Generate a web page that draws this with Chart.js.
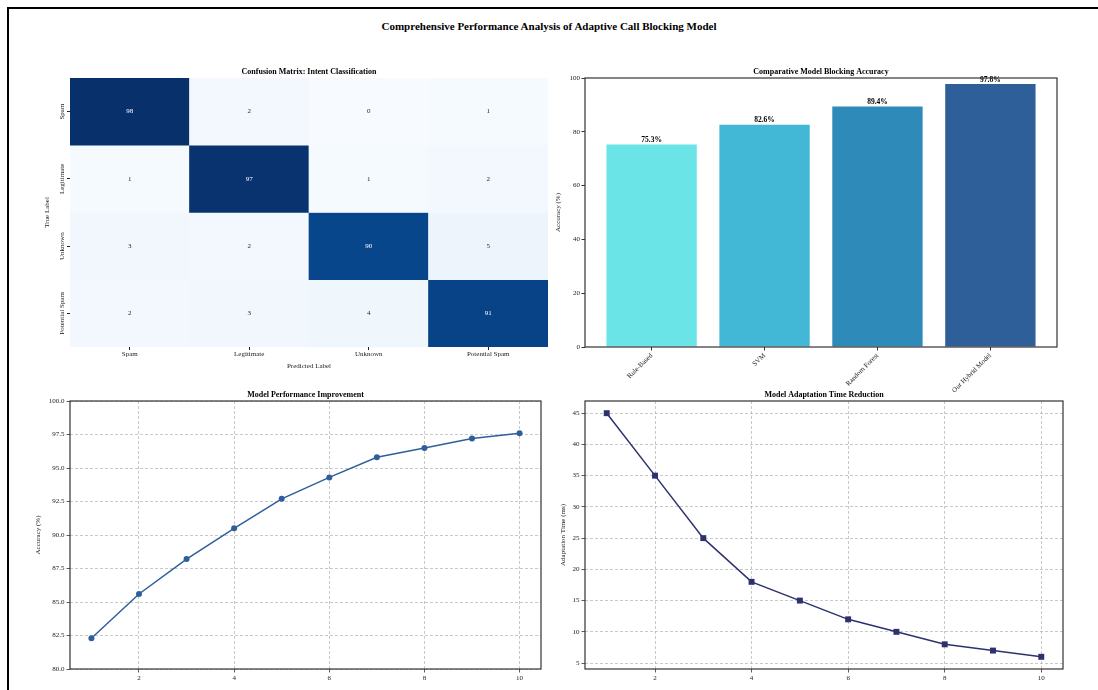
<!DOCTYPE html>
<html>
<head>
<meta charset="utf-8">
<title>Adaptive Call Blocking Model</title>
<script src="https://cdn.jsdelivr.net/npm/chart.js@4.4.1/dist/chart.umd.min.js"></script>
<style>
  body { margin: 0; width: 1098px; height: 690px; overflow: hidden; background: #fff; position: relative; font-family: "Liberation Serif", serif; }
  #frame { position: absolute; left: 7px; top: 7px; width: 1200px; height: 800px; border-top: 2px solid #000; border-left: 2px solid #000; }
  #mainTitle { position: absolute; left: 0; top: 20px; width: 1098px; text-align: center; font-weight: bold; font-size: 11px; line-height: 13px; color: #000; }
  canvas { position: absolute; }
</style>
</head>
<body>
<div id="frame"></div>
<div id="mainTitle">Comprehensive Performance Analysis of Adaptive Call Blocking Model</div>
<canvas id="matrixChart" width="540" height="320" style="left:20px; top:60px;"></canvas>
<canvas id="blockingChart" width="550" height="345" style="left:540px; top:60px;"></canvas>
<canvas id="accuracyChart" width="540" height="307" style="left:20px; top:383px;"></canvas>
<canvas id="adaptChart" width="550" height="307" style="left:540px; top:383px;"></canvas>
<script>
// Confusion matrix
const intentLabels = ["Spam", "Legitimate", "Unknown", "Potential Spam"];
const matrixRows = [
  [98, 2, 0, 1],
  [1, 97, 1, 2],
  [3, 2, 90, 5],
  [2, 3, 4, 91],
];

// Blocking accuracy per model
const modelNames = ["Rule-Based", "SVM", "Random Forest", "Our Hybrid Model"];
const modelAccuracy = [75.3, 82.6, 89.4, 97.8];
const modelColors = ["#6be4e8", "#42b7d6", "#2d8ab9", "#2e5f98"];

// Iterations
const iterations = [1, 2, 3, 4, 5, 6, 7, 8, 9, 10];
const accuracyOverTime = [82.3, 85.6, 88.2, 90.5, 92.7, 94.3, 95.8, 96.5, 97.2, 97.6];
const adaptationTime = [45, 35, 25, 18, 15, 12, 10, 8, 7, 6];

// Tick labels
const iterationTicks = [2, 4, 6, 8, 10];
const accuracyTicks = [80, 82.5, 85, 87.5, 90, 92.5, 95, 97.5, 100];
const timeTicks = [5, 10, 15, 20, 25, 30, 35, 40, 45];
const barTicks = [0, 20, 40, 60, 80, 100];

Chart.defaults.font.family = "'Liberation Serif', 'Times New Roman', serif";
Chart.defaults.font.size = 7;
Chart.defaults.color = "#222";
Chart.defaults.animation = false;
Chart.defaults.plugins.legend.display = false;
Chart.defaults.plugins.tooltip.enabled = false;

// matplotlib "Blues"
const blues = ["#f7fbff", "#deebf7", "#c6dbef", "#9ecae1", "#6baed6", "#4292c6", "#2171b5", "#08519c", "#08306b"];
function hexRgb(h) {
  return [1, 3, 5].map((i) => parseInt(h.substr(i, 2), 16));
}
function bluesColor(t) {
  t = Math.min(Math.max(t, 0), 1) * (blues.length - 1);
  const i = Math.min(Math.floor(t), blues.length - 2);
  const f = t - i;
  const a = hexRgb(blues[i]), b = hexRgb(blues[i + 1]);
  const c = a.map((v, k) => Math.round(v + (b[k] - v) * f));
  return { css: `rgb(${c[0]},${c[1]},${c[2]})`, lum: (0.299 * c[0] + 0.587 * c[1] + 0.114 * c[2]) / 255 };
}
const vmax = Math.max(...matrixRows.flat());
const vmin = Math.min(...matrixRows.flat());

// titre + cadre de chaque panneau
const panelDecor = {
  id: "panelDecor",
  afterDraw(chart, args, opts) {
    const { ctx, chartArea: a } = chart;
    ctx.save();
    if (opts.box) {
      ctx.strokeStyle = "#333";
      ctx.lineWidth = 1.2;
      ctx.strokeRect(a.left, a.top, a.right - a.left, a.bottom - a.top);
    }
    ctx.fillStyle = "#000";
    ctx.font = "bold 8px 'Liberation Serif', serif";
    ctx.textAlign = "center";
    ctx.textBaseline = "middle";
    ctx.fillText(opts.title, (a.left + a.right) / 2, a.top - 6.5);
    ctx.restore();
  },
};

const cellText = {
  id: "cellText",
  afterDatasetsDraw(chart) {
    const ctx = chart.ctx;
    ctx.save();
    ctx.font = "7px 'Liberation Serif', serif";
    ctx.textAlign = "center";
    ctx.textBaseline = "middle";
    matrixRows.forEach((row, r) => {
      chart.getDatasetMeta(r).data.forEach((cell, j) => {
        const col = bluesColor((row[j] - vmin) / (vmax - vmin));
        ctx.fillStyle = col.lum < 0.5 ? "#ffffff" : "#262626";
        ctx.fillText(String(row[j]), cell.x, (cell.y + cell.base) / 2);
      });
    });
    ctx.restore();
  },
};

const barValues = {
  id: "barValues",
  afterDatasetsDraw(chart) {
    const ctx = chart.ctx;
    ctx.save();
    ctx.font = "bold 7.5px 'Liberation Serif', serif";
    ctx.fillStyle = "#000";
    ctx.textAlign = "center";
    ctx.textBaseline = "bottom";
    chart.getDatasetMeta(0).data.forEach((bar, i) => {
      ctx.fillText(modelAccuracy[i].toFixed(1) + "%", bar.x, bar.y - 0.5);
    });
    ctx.restore();
  },
};

const dashedGrid = {
  color: "rgba(170,170,170,0.8)",
  lineWidth: 0.8,
  tickColor: "#333",
  tickBorderDash: [],
  tickLength: 3.5,
};
const dashedBorder = { display: false, dash: [3, 2] };

// Matrice de confusion
new Chart(document.getElementById("matrixChart"), {
  type: "bar",
  data: {
    labels: intentLabels,
    datasets: matrixRows.map((row, r) => ({
      data: row.map(() => [r, r + 1]),
      backgroundColor: row.map((v) => bluesColor((v - vmin) / (vmax - vmin)).css),
      borderWidth: 0,
      grouped: false,
      barPercentage: 1,
      categoryPercentage: 1,
    })),
  },
  options: {
    responsive: false,
    layout: { padding: { top: 18, right: 12, left: 0, bottom: 3 } },
    scales: {
      x: {
        border: { display: false },
        grid: { drawOnChartArea: false, offset: false, tickLength: 3, tickColor: "#222" },
        ticks: { padding: 0, maxRotation: 0 },
        title: { display: true, text: "Predicted Label", padding: 6.5 },
        afterFit: (s) => { s.height = 30; },
      },
      y: {
        min: 0,
        max: 4,
        reverse: true,
        border: { display: false },
        grid: { drawOnChartArea: false, tickLength: 3, tickColor: "#222" },
        afterBuildTicks: (s) => { s.ticks = intentLabels.map((l, i) => ({ value: i + 0.5 })); },
        ticks: { minRotation: 90, maxRotation: 90, crossAlign: "center", padding: -16, callback: (v, i) => intentLabels[i] },
        title: { display: true, text: "True Label", padding: 22.5 },
        afterFit: (s) => { s.width = 50; },
      },
    },
    plugins: { panelDecor: { title: "Confusion Matrix: Intent Classification", box: false } },
  },
  plugins: [cellText, panelDecor],
});

// Précision de blocage
new Chart(document.getElementById("blockingChart"), {
  type: "bar",
  data: {
    datasets: [
      {
        data: modelAccuracy.map((v, i) => ({ x: i, y: v })),
        backgroundColor: modelColors,
        borderWidth: 0,
        barPercentage: 0.8,
        categoryPercentage: 1,
      },
    ],
  },
  options: {
    responsive: false,
    layout: { padding: { top: 18, right: 33, left: 0, bottom: 0 } },
    scales: {
      x: {
        type: "linear",
        min: -0.59,
        max: 3.59,
        offset: false,
        border: { display: false },
        grid: { drawOnChartArea: false, offset: false, tickLength: 3.5, tickColor: "#333" },
        afterBuildTicks: (s) => { s.ticks = modelNames.map((n, i) => ({ value: i })); },
        ticks: { minRotation: 45, maxRotation: 45, padding: 1, callback: (v) => modelNames[v] },
        afterFit: (s) => { s.height = 58; },
      },
      y: {
        min: 0,
        max: 100,
        border: { display: false },
        grid: { drawOnChartArea: false, tickLength: 3.5, tickColor: "#333" },
        afterBuildTicks: (s) => { s.ticks = barTicks.map((v) => ({ value: v })); },
        ticks: { padding: 1.5 },
        title: { display: true, text: "Accuracy (%)", padding: 13.8 },
        afterFit: (s) => { s.width = 45; },
      },
    },
    plugins: { panelDecor: { title: "Comparative Model Blocking Accuracy", box: true } },
  },
  plugins: [barValues, panelDecor],
});

// Amélioration de la performance
new Chart(document.getElementById("accuracyChart"), {
  type: "line",
  data: {
    datasets: [
      {
        data: iterations.map((x, i) => ({ x: x, y: accuracyOverTime[i] })),
        borderColor: "#2f5f9a",
        backgroundColor: "#2f5f9a",
        borderWidth: 1.5,
        pointRadius: 3,
        pointBorderWidth: 0,
        tension: 0,
      },
    ],
  },
  options: {
    responsive: false,
    layout: { padding: { top: 18, right: 19, left: 0, bottom: 0 } },
    scales: {
      x: {
        type: "linear",
        min: 0.55,
        max: 10.45,
        border: dashedBorder,
        grid: dashedGrid,
        afterBuildTicks: (s) => { s.ticks = iterationTicks.map((v) => ({ value: v })); },
        ticks: { padding: 1, maxRotation: 0 },
        afterFit: (s) => { s.height = 21; },
      },
      y: {
        min: 80,
        max: 100,
        border: dashedBorder,
        grid: dashedGrid,
        afterBuildTicks: (s) => { s.ticks = accuracyTicks.map((v) => ({ value: v })); },
        ticks: { padding: 2, callback: (v) => v.toFixed(1) },
        title: { display: true, text: "Accuracy (%)", padding: 13.8 },
        afterFit: (s) => { s.width = 50; },
      },
    },
    plugins: { panelDecor: { title: "Model Performance Improvement", box: true } },
  },
  plugins: [panelDecor],
});

// Temps d'adaptation
new Chart(document.getElementById("adaptChart"), {
  type: "line",
  data: {
    datasets: [
      {
        data: iterations.map((x, i) => ({ x: x, y: adaptationTime[i] })),
        borderColor: "#2d3170",
        backgroundColor: "#2d3170",
        borderWidth: 1.5,
        pointStyle: "rect",
        pointRadius: 4.2,
        pointBorderWidth: 0,
        tension: 0,
      },
    ],
  },
  options: {
    responsive: false,
    layout: { padding: { top: 18, right: 27, left: 0, bottom: 0 } },
    scales: {
      x: {
        type: "linear",
        min: 0.55,
        max: 10.45,
        border: dashedBorder,
        grid: dashedGrid,
        afterBuildTicks: (s) => { s.ticks = iterationTicks.map((v) => ({ value: v })); },
        ticks: { padding: 1, maxRotation: 0 },
        afterFit: (s) => { s.height = 21; },
      },
      y: {
        min: 4.05,
        max: 46.95,
        border: dashedBorder,
        grid: dashedGrid,
        afterBuildTicks: (s) => { s.ticks = timeTicks.map((v) => ({ value: v })); },
        ticks: { padding: 2 },
        title: { display: true, text: "Adaptation Time (ms)", padding: 18.5 },
        afterFit: (s) => { s.width = 45; },
      },
    },
    plugins: { panelDecor: { title: "Model Adaptation Time Reduction", box: true } },
  },
  plugins: [panelDecor],
});
</script>
</body>
</html>
